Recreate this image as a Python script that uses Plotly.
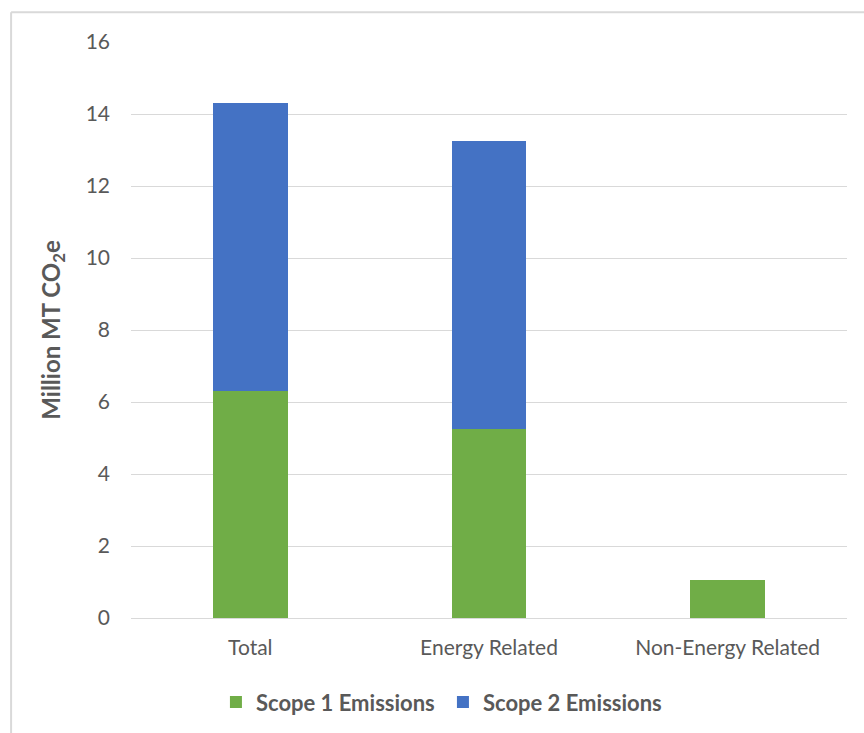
import plotly.graph_objects as go

categories = ["Total", "Energy Related", "Non-Energy Related"]
scope1 = [6.3, 5.25, 1.05]
scope2 = [8.0, 8.0, 0.0]
y_ticks = [0, 2, 4, 6, 8, 10, 12, 14, 16]

GREEN = "#70AD47"
BLUE = "#4472C4"
GRID = "#D9D9D9"
TEXT = "#595959"
FONT = "Lato, 'Open Sans', sans-serif"

W, H = 864, 733
L, R, T, B = 131, 16.5, 41.7, 115.3
pw, ph = W - L - R, H - T - B

def px_x(p):
    return (p - L) / pw

def px_y(p):
    return (H - B - p) / ph

fig = go.Figure()
fig.add_trace(go.Bar(x=categories, y=scope1, name="Scope 1 Emissions",
                     marker=dict(color=GREEN, line=dict(width=0))))
fig.add_trace(go.Bar(x=categories, y=scope2, name="Scope 2 Emissions",
                     marker=dict(color=BLUE, line=dict(width=0))))

# outer chart frame (top and left edges visible)
fig.add_shape(type="line", xref="paper", yref="paper",
              x0=px_x(11), x1=px_x(880), y0=px_y(12), y1=px_y(12),
              line=dict(color=GRID, width=2), layer="below")
fig.add_shape(type="line", xref="paper", yref="paper",
              x0=px_x(11), x1=px_x(11), y0=px_y(12), y1=px_y(760),
              line=dict(color=GRID, width=2), layer="below")

fig.update_layout(
    width=W, height=H,
    margin=dict(l=L, r=R, t=T, b=B, autoexpand=False),
    barmode="stack",
    bargap=0.686,
    plot_bgcolor="white",
    paper_bgcolor="white",
    font=dict(family=FONT, color=TEXT, size=21),
    xaxis=dict(showgrid=False, showline=False, ticks="",
               ticklabelstandoff=15,
               tickfont=dict(size=21, color=TEXT)),
    yaxis=dict(range=[0, 16], tickvals=y_ticks, showgrid=True,
               gridcolor=GRID, gridwidth=1.3, zeroline=True,
               zerolinecolor=GRID, zerolinewidth=1.3, ticks="",
               ticklabelstandoff=20,
               tickfont=dict(size=21, color=TEXT),
               title=dict(text="<b>Million MT CO<sub>2</sub>e</b>",
                          font=dict(size=24, color=TEXT), standoff=18)),
    legend=dict(orientation="h", x=px_x(216), xanchor="left",
                y=px_y(702), yanchor="middle",
                font=dict(size=22, color=TEXT, weight="bold"),
                traceorder="normal", itemwidth=30, entrywidth=182,
                bgcolor="rgba(0,0,0,0)"),
)

fig.write_html("out.html")
